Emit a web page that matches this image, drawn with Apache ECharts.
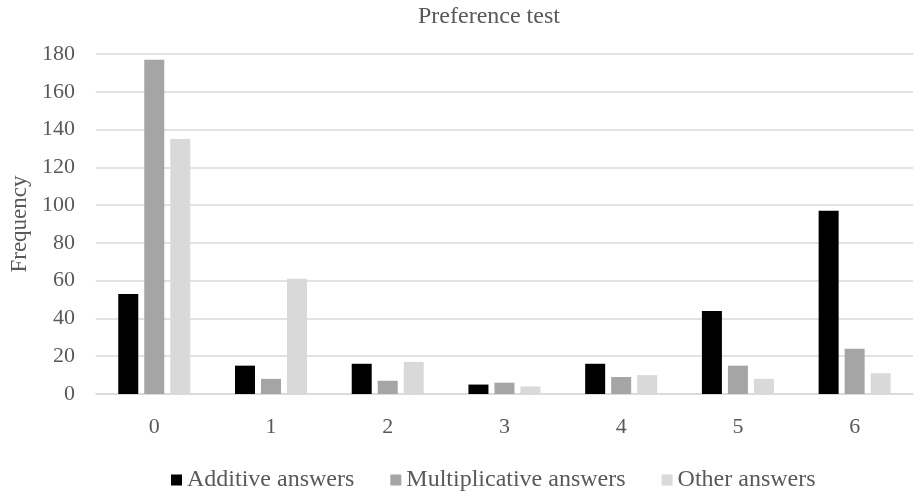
<!DOCTYPE html>
<html>
<head>
<meta charset="utf-8">
<script src="https://cdn.jsdelivr.net/npm/echarts@6/dist/echarts.min.js"></script>
<style>
  html, body { margin: 0; padding: 0; background: #fff; }
  #chart { width: 914px; height: 492px; }
</style>
</head>
<body>
<div id="chart"></div>
<script>
var categories = ["0", "1", "2", "3", "4", "5", "6"];
var additive = [53, 15, 16, 5, 16, 44, 97];
var multiplicative = [177, 8, 7, 6, 9, 15, 24];
var other = [135, 61, 17, 4, 10, 8, 11];

var chart = echarts.init(document.getElementById("chart"));
var font = "'Liberation Serif', 'Times New Roman', serif";
var textGray = "#595959";

function barSeries(name, data, color) {
  return {
    name: name,
    type: "bar",
    data: data,
    barWidth: 20,
    barGap: "30%",
    itemStyle: { color: color },
    emphasis: { disabled: true }
  };
}

var option = {
  animation: false,
  title: {
    text: "Preference test",
    left: 413,
    top: 0,
    textStyle: { color: textGray, fontFamily: font, fontSize: 24, fontWeight: "normal" }
  },
  legend: {
    top: 463,
    left: 166,
    itemWidth: 11,
    itemHeight: 11,
    itemGap: 36,
    icon: "rect",
    textStyle: { color: textGray, fontFamily: font, fontSize: 24 }
  },
  grid: {
    left: 88,
    right: 1,
    top: 54,
    bottom: 98
  },
  xAxis: {
    type: "category",
    data: categories,
    axisLine: { lineStyle: { color: "#d9d9d9", width: 1.5 } },
    axisTick: { show: false },
    axisLabel: { color: textGray, fontFamily: font, fontSize: 22, margin: 22 }
  },
  yAxis: {
    type: "value",
    min: 0,
    max: 180,
    interval: 20,
    name: "Frequency",
    nameLocation: "middle",
    nameGap: 62,
    nameTextStyle: { color: textGray, fontFamily: font, fontSize: 23 },
    axisLine: { show: false },
    axisTick: { show: false },
    splitLine: { lineStyle: { color: "#d9d9d9", width: 1.5 } },
    axisLabel: { color: textGray, fontFamily: font, fontSize: 22, margin: 21 }
  },
  series: [
    barSeries("Additive answers", additive, "#000000"),
    barSeries("Multiplicative answers", multiplicative, "#a5a5a5"),
    barSeries("Other answers", other, "#d9d9d9")
  ]
};
chart.setOption(option);
</script>
</body>
</html>
